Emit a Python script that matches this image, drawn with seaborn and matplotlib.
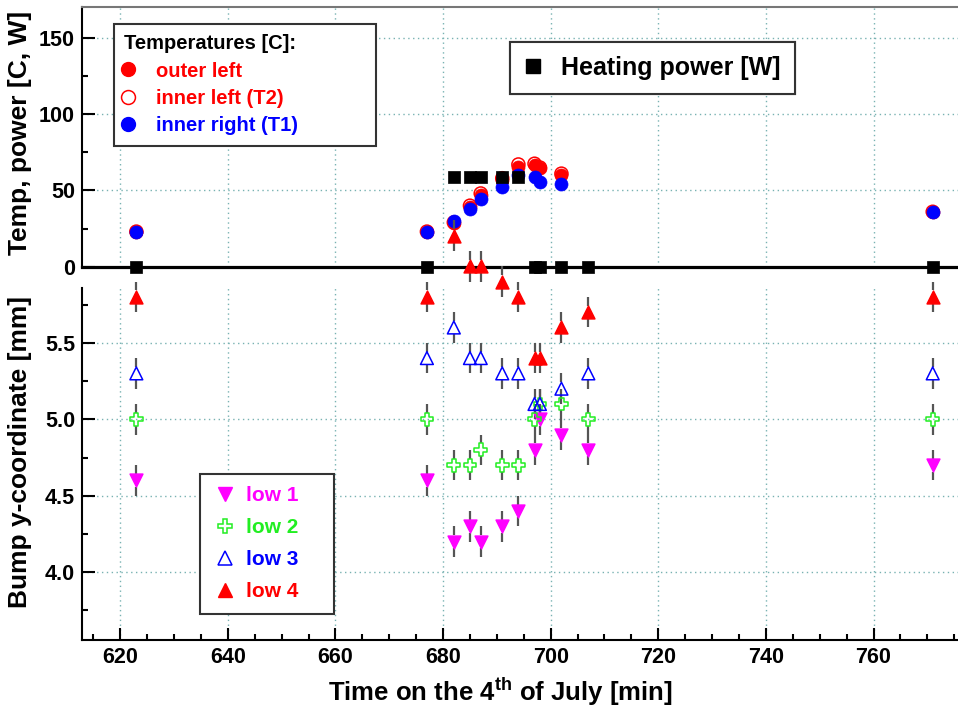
import numpy as np
import pandas as pd
import matplotlib.pyplot as plt
import seaborn as sns
from matplotlib.lines import Line2D
from matplotlib.ticker import MultipleLocator, FormatStrFormatter

sns.set_theme(style='white')
plt.rcParams['font.family'] = ['Liberation Sans', 'DejaVu Sans']
plt.rcParams['font.weight'] = 'bold'
plt.rcParams['mathtext.fontset'] = 'custom'
plt.rcParams['mathtext.rm'] = 'Liberation Sans:bold'
plt.rcParams['mathtext.bf'] = 'Liberation Sans:bold'
for key in ('text.color', 'axes.labelcolor', 'xtick.color', 'ytick.color'):
    plt.rcParams[key] = 'black'

# temperatures [C] vs time [min]
t_temp = [623, 677, 682, 685, 687, 691, 694, 697, 698, 702, 771]
temp_outer_left = [23, 23, 28.5, 39, 47, 57, 65.5, 66.5, 64.5, 60, 36]
temp_inner_left = [23, 23, 29, 40, 48, 58, 67, 67.5, 65, 61, 36]
temp_inner_right = [22.7, 23, 30, 37.6, 44.4, 52.4, 60, 59, 55.7, 54.2, 35.6]

# heating power [W] and bump positions [mm]
t_bump = [623, 677, 682, 685, 687, 691, 694, 697, 698, 702, 707, 771]
power = [0, 0, 58.5, 58.5, 58.5, 58.5, 58.5, 0, 0, 0, 0, 0]
low1 = [4.6, 4.6, 4.2, 4.3, 4.2, 4.3, 4.4, 4.8, 5.0, 4.9, 4.8, 4.7]
low2 = [5.0, 5.0, 4.7, 4.7, 4.8, 4.7, 4.7, 5.0, 5.1, 5.1, 5.0, 5.0]
low3 = [5.3, 5.4, 5.6, 5.4, 5.4, 5.3, 5.3, 5.1, 5.1, 5.2, 5.3, 5.3]
low4 = [5.8, 5.8, 6.2, 6.0, 6.0, 5.9, 5.8, 5.4, 5.4, 5.6, 5.7, 5.8]
bump_err = 0.1

W, H = 958, 713
fig = plt.figure(figsize=(9.58, 7.13), dpi=100)


def px_box(x0, y0, x1, y1):
    return [x0 / W, 1 - y1 / H, (x1 - x0) / W, (y1 - y0) / H]


ax_top = fig.add_axes(px_box(82, 6.7, 958, 266.7))
ax_bot = fig.add_axes(px_box(82, 287.7, 958, 640))
ax_top.set_zorder(1)
ax_bot.set_zorder(2)
for ax in (ax_top, ax_bot):
    ax.patch.set_visible(False)
    ax.set_xlim(612.9, 775.7)

grid_kw = dict(color='#78b2b2', linestyle=(0, (1, 2.5)), linewidth=1.0)

# ---- top panel: temperatures and power
ax_top.set_ylim(0, 170.4)
ax_top.xaxis.set_major_locator(MultipleLocator(20))
ax_top.yaxis.set_major_locator(MultipleLocator(50))
ax_top.yaxis.set_minor_locator(MultipleLocator(25))
ax_top.tick_params(axis='x', length=0, labelbottom=False)
ax_top.tick_params(axis='y', which='major', direction='in', length=9.5, width=1.5,
                   labelsize=15.5, pad=5, left=True)
ax_top.tick_params(axis='y', which='minor', direction='in', length=4.5, width=1.5, left=True)
ax_top.grid(True, which='major', **grid_kw)
ax_top.spines['right'].set_visible(False)
ax_top.spines['left'].set_color('black')
ax_top.spines['left'].set_linewidth(1.5)
ax_top.spines['bottom'].set_color('black')
ax_top.spines['bottom'].set_linewidth(2.3)
ax_top.spines['top'].set_color('#777777')
ax_top.spines['top'].set_linewidth(1.5)

sns.scatterplot(x=t_temp, y=temp_outer_left, ax=ax_top, marker='o', s=88,
                color='red', edgecolor='red', linewidth=0.5, zorder=3, legend=False)
sns.scatterplot(x=t_temp, y=temp_inner_left, ax=ax_top, marker='o', s=88,
                color='red', facecolor='none', edgecolor='red', linewidth=1.1,
                zorder=4, legend=False)
sns.scatterplot(x=t_temp, y=temp_inner_right, ax=ax_top, marker='o', s=88,
                color='blue', edgecolor='blue', linewidth=0.5, zorder=5, legend=False)
sns.scatterplot(x=t_bump, y=power, ax=ax_top, marker='s', s=80, color='black',
                edgecolor='black', linewidth=0.5, zorder=6, clip_on=False, legend=False)

ax_top.set_ylabel('Temp, power [C, W]', fontsize=19, fontweight='bold', va='center')
ax_top.yaxis.set_label_coords(-0.0708, 0.514)

# ---- bottom panel: bump y-coordinates
ax_bot.set_ylim(3.557, 5.86)
ax_bot.xaxis.set_major_locator(MultipleLocator(20))
ax_bot.xaxis.set_minor_locator(MultipleLocator(5))
ax_bot.yaxis.set_major_locator(MultipleLocator(0.5))
ax_bot.yaxis.set_minor_locator(MultipleLocator(0.25))
ax_bot.yaxis.set_major_formatter(FormatStrFormatter('%.1f'))
ax_bot.tick_params(axis='both', which='major', direction='in', length=9, width=1.5,
                   labelsize=15.5, pad=5, left=True, bottom=True)
ax_bot.tick_params(axis='both', which='minor', direction='in', length=4, width=1.5,
                   left=True, bottom=True)
ax_bot.grid(True, which='major', **grid_kw)
ax_bot.spines['right'].set_visible(False)
ax_bot.spines['top'].set_visible(False)
for side in ('left', 'bottom'):
    ax_bot.spines[side].set_color('black')
    ax_bot.spines[side].set_linewidth(1.5)

gap = 0.042
series = [
    (low1, 'v', '#ff00ff', '#ff00ff'),
    (low2, 'P', 'none', '#22ee22'),
    (low3, '^', 'none', '#0000ff'),
    (low4, '^', '#ff0000', '#ff0000'),
]
t_arr = np.array(t_bump)
for vals, mk, fc, ec in series:
    v = np.array(vals)
    ax_bot.vlines(t_arr, v + gap, v + bump_err, color='#555555', lw=1.6,
                  zorder=3, clip_on=False)
    ax_bot.vlines(t_arr, v - bump_err, v - gap, color='#555555', lw=1.6,
                  zorder=3, clip_on=False)
    sns.scatterplot(x=t_bump, y=vals, ax=ax_bot, marker=mk, s=85, color=ec,
                    facecolor=fc, edgecolor=ec, linewidth=1.1, zorder=4,
                    clip_on=False, legend=False)

ax_bot.set_ylabel('Bump y-coordinate [mm]', fontsize=19, fontweight='bold', va='center')
ax_bot.yaxis.set_label_coords(-0.0708, 0.534)
ax_bot.set_xlabel(r'Time on the 4$^{\mathbf{th}}$ of July [min]', fontsize=18.5,
                  fontweight='bold', va='center')
ax_bot.xaxis.set_label_coords((500 - 82) / 876, (640 - 692) / 352.3)

# ---- legends
frame_kw = dict(frameon=True, fancybox=False, edgecolor='#333333', framealpha=1,
                mode='expand', borderaxespad=0, bbox_transform=fig.transFigure)

temp_handles = [
    Line2D([], [], ls='none', marker='o', ms=10, mfc='red', mec='red'),
    Line2D([], [], ls='none', marker='o', ms=10, mfc='none', mec='red', mew=1.1),
    Line2D([], [], ls='none', marker='o', ms=10, mfc='blue', mec='blue'),
]
leg1 = ax_top.legend(temp_handles, ['outer left', 'inner left (T2)', 'inner right (T1)'],
                     title='Temperatures [C]:', loc='upper left',
                     bbox_to_anchor=(114 / W, 1 - 144 / H, 262 / W, 120 / H),
                     alignment='left', labelcolor=['red', 'red', 'blue'],
                     prop={'size': 14.5, 'weight': 'bold'},
                     title_fontproperties={'size': 14.5, 'weight': 'bold'},
                     borderpad=0.5, labelspacing=0.42, handlelength=0.4,
                     handletextpad=1.2, **frame_kw)
leg1.get_frame().set_linewidth(1.5)
ax_top.add_artist(leg1)

power_handle = [Line2D([], [], ls='none', marker='s', ms=9.5, mfc='black', mec='black')]
leg2 = ax_top.legend(power_handle, ['Heating power [W]'], loc='upper left',
                     bbox_to_anchor=(510 / W, 1 - 95 / H, 285 / W, 53 / H),
                     prop={'size': 18, 'weight': 'bold'}, labelcolor='black',
                     borderpad=0.55, handlelength=0.7, handletextpad=0.8, **frame_kw)
leg2.get_frame().set_linewidth(1.5)
ax_top.add_artist(leg2)

bump_handles = [
    Line2D([], [], ls='none', marker='v', ms=9.5, mfc='#ff00ff', mec='#ff00ff'),
    Line2D([], [], ls='none', marker='P', ms=9.5, mfc='none', mec='#22ee22', mew=1.1),
    Line2D([], [], ls='none', marker='^', ms=9.5, mfc='none', mec='#0000ff', mew=1.1),
    Line2D([], [], ls='none', marker='^', ms=9.5, mfc='#ff0000', mec='#ff0000'),
]
leg3 = ax_bot.legend(bump_handles, ['low 1', 'low 2', 'low 3', 'low 4'], loc='upper left',
                     bbox_to_anchor=(200 / W, 1 - 611 / H, 134 / W, 137 / H),
                     labelcolor=['#ff00ff', '#22ee22', '#0000ff', '#ff0000'],
                     prop={'size': 15, 'weight': 'bold'},
                     borderpad=0.6, labelspacing=0.62, handlelength=1.2,
                     handletextpad=0.4, **frame_kw)
leg3.get_frame().set_linewidth(1.5)

fig.savefig('out.png', dpi=100, facecolor='white')
